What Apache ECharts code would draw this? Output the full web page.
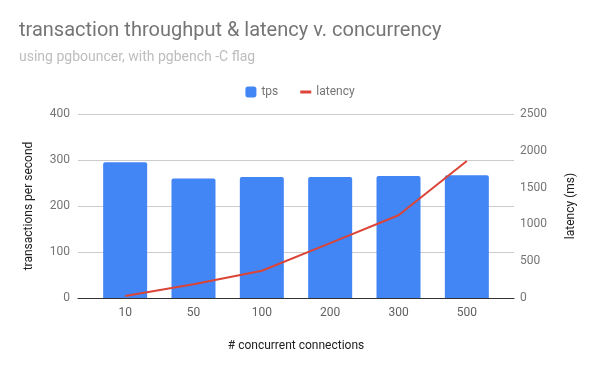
<!DOCTYPE html>
<html><head><meta charset="utf-8">
<script src="https://cdn.jsdelivr.net/npm/echarts@6/dist/echarts.min.js"></script>
<style>html,body{margin:0;padding:0;background:#fff}#c{width:600px;height:371px}</style>
</head><body><div id="c"></div>
<script>
const categories = ['10','50','100','200','300','500'];
const tps = [295, 260, 263, 263, 265, 267];
const latency = [27, 186, 370, 745, 1125, 1862];
const leftTicks = [0,100,200,300,400];
const rightTicks = [0,500,1000,1500,2000,2500];

const idx = categories.map((c,i)=>i);
const pad = 0.69;
const chart = echarts.init(document.getElementById('c'));
const font = 'Roboto';
chart.setOption({
  animation: false,
  textStyle: {fontFamily: font},
  title: {
    text: 'transaction throughput & latency v. concurrency',
    subtext: 'using pgbouncer, with pgbench -C flag',
    left: 14, top: 16, itemGap: 9,
    textStyle: {fontFamily: font, fontSize: 20, fontWeight: 'normal', color: '#757575'},
    subtextStyle: {fontFamily: font, fontSize: 14, color: '#bdbdbd'}
  },
  legend: {
    top: 81, left: 'center', itemGap: 22, itemWidth: 11, itemHeight: 11,
    textStyle: {fontFamily: font, fontSize: 12, color: '#757575'},
    data: [
      {name: 'tps', icon: 'roundRect'},
      {name: 'latency', icon: 'path://M0,0 L11,0 L11,3 L0,3 Z'}
    ]
  },
  grid: {left: 78, right: 86, top: 114, bottom: 73},
  xAxis: {
    type: 'value', min: -pad, max: categories.length - 1 + pad,
    axisLine: {show: true, onZero: false, lineStyle: {color: '#333', width: 1}},
    axisTick: {show: false},
    splitLine: {show: false},
    axisLabel: {color: '#616161', fontSize: 12, margin: 9,
      customValues: idx, formatter: v => categories[Math.round(v)] ?? ''},
    name: '# concurrent connections', nameLocation: 'middle', nameGap: 42,
    nameTextStyle: {color: '#212121', fontSize: 12}
  },
  yAxis: [
    {
      type: 'value', min: leftTicks[0], max: leftTicks[leftTicks.length-1], interval: 100,
      axisLine: {show: false}, axisTick: {show: false},
      axisLabel: {color: '#757575', fontSize: 12, margin: 8},
      splitLine: {lineStyle: {color: '#cccccc'}},
      name: 'transactions per second', nameLocation: 'middle', nameGap: 43, nameRotate: 90,
      nameTextStyle: {color: '#212121', fontSize: 12}
    },
    {
      type: 'value', min: rightTicks[0], max: rightTicks[rightTicks.length-1], interval: 500,
      axisLine: {show: false}, axisTick: {show: false},
      axisLabel: {color: '#757575', fontSize: 12, margin: 6, formatter: v => String(v)},
      splitLine: {show: false},
      name: 'latency (ms)', nameLocation: 'middle', nameGap: 51, nameRotate: 90,
      nameTextStyle: {color: '#212121', fontSize: 12}
    }
  ],
  series: [
    {
      name: 'tps', type: 'bar', data: tps.map((v,i)=>[i,v]), barWidth: 44, yAxisIndex: 0,
      itemStyle: {color: '#4285F4', borderRadius: [2,2,0,0]}
    },
    {
      name: 'latency', type: 'line', data: latency.map((v,i)=>[i,v]), yAxisIndex: 1,
      symbol: 'none', lineStyle: {color: '#DB4437', width: 2}, itemStyle: {color: '#DB4437'}
    }
  ]
});
</script></body></html>
